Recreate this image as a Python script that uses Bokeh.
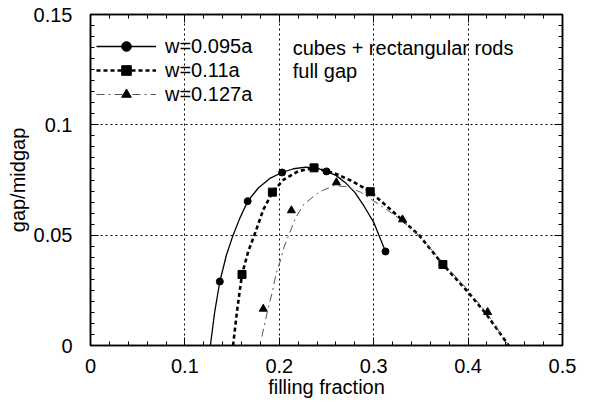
from bokeh.plotting import figure
from bokeh.models import (FixedTicker, LinearAxis, Range1d, Label, Legend, LegendItem)
from bokeh.embed import file_html
from bokeh.resources import INLINE

# ---- data ----
# computed points (markers)
w095_x = [0.137, 0.1665, 0.203, 0.250, 0.3125]
w095_y = [0.029, 0.0654, 0.0784, 0.0789, 0.0426]
w011_x = [0.1605, 0.1927, 0.2368, 0.2963, 0.3733]
w011_y = [0.0322, 0.0695, 0.0805, 0.0697, 0.0367]
w0127_x = [0.183, 0.2128, 0.2605, 0.3305, 0.4207]
w0127_y = [0.0166, 0.0612, 0.0739, 0.0571, 0.0151]

# fitted curves
fit095_x = [0.127, 0.1315, 0.137, 0.144, 0.151, 0.158, 0.1665, 0.178, 0.19, 0.203,
            0.215, 0.228, 0.24, 0.25, 0.26, 0.27, 0.28, 0.29, 0.30, 0.3125]
fit095_y = [0.0, 0.015, 0.029, 0.041, 0.050, 0.0575, 0.0654, 0.0715, 0.0757, 0.0784,
            0.0801, 0.0808, 0.0804, 0.0789, 0.0771, 0.0738, 0.0694, 0.063, 0.0558, 0.0426]
fit011_x = [0.151, 0.1555, 0.1605, 0.167, 0.174, 0.183, 0.1927, 0.205, 0.22, 0.2368,
            0.258, 0.277, 0.2963, 0.32, 0.348, 0.3733, 0.40, 0.42, 0.443]
fit011_y = [0.0, 0.0165, 0.0322, 0.0425, 0.0505, 0.0615, 0.0695, 0.0753, 0.0790, 0.0805,
            0.0782, 0.0745, 0.0697, 0.0608, 0.050, 0.0367, 0.0242, 0.0138, 0.0]
fit0127_x = [0.1815, 0.188, 0.193, 0.1965, 0.2007, 0.205, 0.210, 0.2174, 0.226, 0.242,
             0.258, 0.272, 0.286, 0.30, 0.315, 0.3305, 0.35, 0.3733, 0.40, 0.42, 0.443]
fit0127_y = [0.004, 0.0165, 0.0249, 0.0325, 0.0378, 0.0446, 0.050, 0.058, 0.064, 0.0695,
             0.0725, 0.0719, 0.0695, 0.0655, 0.0612, 0.0565, 0.049, 0.0375, 0.025, 0.0145, 0.0]

series_names = ["w=0.095a", "w=0.11a", "w=0.127a"]

x_ticks = [0.0, 0.1, 0.2, 0.3, 0.4, 0.5]
x_tick_labels = ["0", "0.1", "0.2", "0.3", "0.4", "0.5"]
x_minor = [0.02, 0.04, 0.06, 0.08, 0.12, 0.14, 0.16, 0.18, 0.22, 0.24, 0.26, 0.28,
           0.32, 0.34, 0.36, 0.38, 0.42, 0.44, 0.46, 0.48]
y_ticks = [0.0, 0.05, 0.1, 0.15]
y_tick_labels = ["0", "0.05", "0.1", "0.15"]
y_minor = [0.005, 0.01, 0.015, 0.02, 0.025, 0.03, 0.035, 0.04, 0.045,
           0.055, 0.06, 0.065, 0.07, 0.075, 0.08, 0.085, 0.09, 0.095,
           0.105, 0.11, 0.115, 0.12, 0.125, 0.13, 0.135, 0.14, 0.145]

FONT = "Liberation Sans"
FS = "20px"

p = figure(width=588, height=402, x_range=Range1d(0, 0.5), y_range=Range1d(0, 0.15),
           output_backend="svg", toolbar_location=None,
           min_border_left=90, min_border_right=26, min_border_top=14, min_border_bottom=57)
p.outline_line_color = "black"
p.outline_line_width = 1.5
p.background_fill_color = "white"
p.border_fill_color = "white"

xt = FixedTicker(ticks=x_ticks, minor_ticks=x_minor)
yt = FixedTicker(ticks=y_ticks, minor_ticks=y_minor)

def style_axis(ax):
    ax.axis_line_color = "black"
    ax.axis_line_width = 1.5
    ax.major_tick_in = 8
    ax.major_tick_out = 0
    ax.minor_tick_in = 4
    ax.minor_tick_out = 0
    ax.major_tick_line_color = "black"
    ax.minor_tick_line_color = "black"
    ax.major_label_text_font = FONT
    ax.major_label_text_font_size = FS
    ax.major_label_text_color = "black"
    ax.axis_label_text_font = FONT
    ax.axis_label_text_font_size = FS
    ax.axis_label_text_font_style = "normal"
    ax.axis_label_text_color = "black"

p.xaxis.ticker = xt
p.yaxis.ticker = yt
p.xaxis.major_label_overrides = {t: s for t, s in zip(x_ticks, x_tick_labels)}
p.yaxis.major_label_overrides = {t: s for t, s in zip(y_ticks, y_tick_labels)}
style_axis(p.xaxis[0])
style_axis(p.yaxis[0])
p.xaxis.major_label_standoff = 13
p.yaxis.major_label_standoff = 18
p.xaxis.axis_label = "filling fraction"
p.yaxis.axis_label = "gap/midgap"
p.xaxis.axis_label_standoff = 0
p.yaxis.axis_label_standoff = 2

# mirrored tick marks on the top and right edges (no labels)
top_ax = LinearAxis(ticker=xt, major_label_overrides={t: "" for t in x_ticks})
style_axis(top_ax)
top_ax.major_label_standoff = 0
p.add_layout(top_ax, "above")
right_ax = LinearAxis(ticker=yt, major_label_overrides={t: "" for t in y_ticks})
style_axis(right_ax)
right_ax.major_label_standoff = 0
p.add_layout(right_ax, "right")

p.xgrid.ticker = xt
p.ygrid.ticker = yt
for g in (p.xgrid[0], p.ygrid[0]):
    g.grid_line_color = "black"
    g.grid_line_dash = "2 3"
    g.grid_line_width = 1

# curves
l1 = p.line(fit095_x, fit095_y, line_color="black", line_width=1.3)
l2 = p.line(fit011_x, fit011_y, line_color="black", line_width=2.6, line_dash="4 3")
l3 = p.line(fit0127_x, fit0127_y, line_color="#555555", line_width=1, line_dash="8 4 2 4")
m1 = p.scatter(w095_x, w095_y, marker="circle", size=7, color="black")
m2 = p.scatter(w011_x, w011_y, marker="square", size=8, color="black")
m3 = p.scatter(w0127_x, w0127_y, marker="triangle", size=8, color="black")

legend = Legend(items=[LegendItem(label=series_names[0], renderers=[l1, m1]),
                       LegendItem(label=series_names[1], renderers=[l2, m2]),
                       LegendItem(label=series_names[2], renderers=[l3, m3])],
                location=(6, 239), border_line_color=None, background_fill_alpha=0,
                glyph_width=60, glyph_height=24, label_height=24, spacing=0,
                padding=8, margin=0, label_standoff=9,
                label_text_font=FONT, label_text_font_size=FS,
                label_text_color="black")
p.add_layout(legend)

p.add_layout(Label(x=0.2142, y=0.135, text="cubes + rectangular rods",
                   text_font=FONT, text_font_size=FS, text_baseline="alphabetic",
                   text_color="black"))
p.add_layout(Label(x=0.2142, y=0.1246, text="full gap",
                   text_font=FONT, text_font_size=FS, text_baseline="alphabetic",
                   text_color="black"))

open("out.html", "w").write(file_html(p, INLINE))
